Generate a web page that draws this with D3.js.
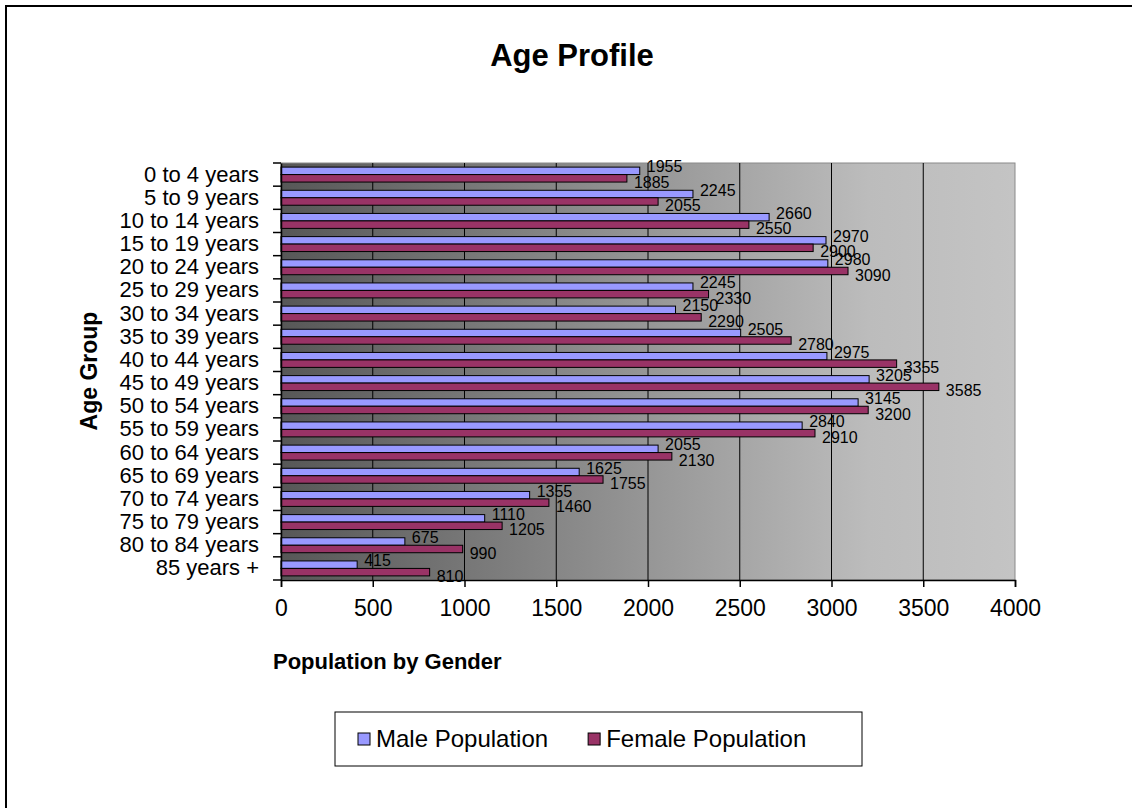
<!DOCTYPE html>
<html>
<head>
<meta charset="utf-8">
<script src="https://cdn.jsdelivr.net/npm/d3@7"></script>
<style>
  html, body { margin: 0; padding: 0; background: #fff; }
  svg { display: block; font-family: "Liberation Sans", Arial, sans-serif; }
</style>
</head>
<body>
<svg id="chart" width="1132" height="808"></svg>
<script>
const categories = ["0 to 4 years","5 to 9 years","10 to 14 years","15 to 19 years","20 to 24 years",
  "25 to 29 years","30 to 34 years","35 to 39 years","40 to 44 years","45 to 49 years",
  "50 to 54 years","55 to 59 years","60 to 64 years","65 to 69 years","70 to 74 years",
  "75 to 79 years","80 to 84 years","85 years +"];
const maleValues   = [1955,2245,2660,2970,2980,2245,2150,2505,2975,3205,3145,2840,2055,1625,1355,1110,675,415];
const femaleValues = [1885,2055,2550,2900,3090,2330,2290,2780,3355,3585,3200,2910,2130,1755,1460,1205,990,810];
const seriesNames  = ["Male Population","Female Population"];
const seriesColors = ["#9999FF","#993366"];
const xTicks = [0,500,1000,1500,2000,2500,3000,3500,4000];
const titleText = "Age Profile";
const xTitle = "Population by Gender";
const yTitle = "Age Group";

const svg = d3.select("#chart");
const plot = {left: 281, right: 1015, top: 163, bottom: 580};

// outer chart border
svg.append("rect").attr("x", 6).attr("y", 6).attr("width", 1200).attr("height", 900)
  .attr("fill", "#fff").attr("stroke", "#000").attr("stroke-width", 2);

// gradient
const defs = svg.append("defs");
const grad = defs.append("linearGradient").attr("id", "bg").attr("x1", "0%").attr("x2", "100%").attr("y1", "0%").attr("y2", "0%");
grad.append("stop").attr("offset", "0%").attr("stop-color", "#575757");
grad.append("stop").attr("offset", "80%").attr("stop-color", "#bcbcbc");
grad.append("stop").attr("offset", "100%").attr("stop-color", "#c4c4c4");

const x = d3.scaleLinear().domain([0, 4000]).range([plot.left, plot.right]);
const y0 = d3.scaleBand().domain(categories).range([plot.top, plot.bottom]).paddingInner(0).paddingOuter(0);
const y1 = d3.scaleBand().domain(seriesNames).range([0, y0.bandwidth()]).paddingInner(0).paddingOuter(0.55);

svg.append("rect").attr("x", plot.left).attr("y", plot.top)
  .attr("width", plot.right - plot.left).attr("height", plot.bottom - plot.top)
  .attr("fill", "url(#bg)").attr("stroke", "#8a8a8a").attr("stroke-width", 1);

// gridlines
svg.append("g").selectAll("line").data(xTicks.filter(d => d > 0 && d < 4000)).join("line")
  .attr("x1", d => x(d)).attr("x2", d => x(d))
  .attr("y1", plot.top).attr("y2", plot.bottom)
  .attr("stroke", "#000").attr("stroke-width", 1);

// bars
const data = categories.map((c, i) => ({cat: c, vals: [maleValues[i], femaleValues[i]]}));
const groups = svg.append("g").selectAll("g").data(data).join("g")
  .attr("transform", d => `translate(0,${y0(d.cat)})`);
groups.selectAll("rect").data(d => d.vals.map((v, j) => ({name: seriesNames[j], v, j}))).join("rect")
  .attr("x", x(0))
  .attr("y", d => y1(d.name))
  .attr("width", d => x(d.v) - x(0))
  .attr("height", y1.bandwidth())
  .attr("fill", d => seriesColors[d.j])
  .attr("stroke", "#000").attr("stroke-width", 1);

// value labels
groups.selectAll("text").data(d => d.vals.map((v, j) => ({name: seriesNames[j], v, j}))).join("text")
  .attr("x", d => x(d.v) + 7)
  .attr("y", d => y1(d.name) + y1.bandwidth() / 2 + (d.j === 0 ? -4 : 4))
  .attr("dy", "0.35em")
  .attr("font-size", 16).attr("fill", "#000")
  .text(d => d.v);

// x axis
const xAxis = d3.axisBottom(x).tickValues(xTicks).tickSize(7).tickPadding(13).tickFormat(d3.format("d"));
const gx = svg.append("g").attr("transform", `translate(0,${plot.bottom})`).call(xAxis);
gx.select(".domain").attr("stroke", "#000").attr("stroke-width", 1.5);
gx.selectAll(".tick line").attr("stroke", "#000").attr("stroke-width", 1.5);
gx.selectAll("text").attr("font-size", 23).attr("font-family", "Liberation Sans, Arial, sans-serif").attr("fill", "#000");

// y axis
const yAxis = d3.axisLeft(y0).tickSize(0).tickPadding(22);
const gy = svg.append("g").attr("transform", `translate(${plot.left},0)`).call(yAxis);
gy.select(".domain").attr("stroke", "#000").attr("stroke-width", 1.5);
gy.selectAll("text").attr("font-size", 22).attr("font-family", "Liberation Sans, Arial, sans-serif").attr("fill", "#000");
// category boundary ticks
const bounds = categories.map(c => y0(c)).concat([plot.bottom]);
svg.append("g").selectAll("line").data(bounds).join("line")
  .attr("x1", plot.left - 8).attr("x2", plot.left)
  .attr("y1", d => d).attr("y2", d => d)
  .attr("stroke", "#000").attr("stroke-width", 1.5);

// titles
svg.append("text").attr("x", 572).attr("y", 66).attr("text-anchor", "middle")
  .attr("font-size", 31).attr("font-weight", "bold").text(titleText);
svg.append("text").attr("x", 273).attr("y", 669)
  .attr("font-size", 22).attr("font-weight", "bold").text(xTitle);
svg.append("text").attr("transform", "translate(97,371) rotate(-90)").attr("text-anchor", "middle")
  .attr("font-size", 23).attr("font-weight", "bold").text(yTitle);

// legend
const lg = {x: 335, y: 712, w: 527, h: 54};
svg.append("rect").attr("x", lg.x).attr("y", lg.y).attr("width", lg.w).attr("height", lg.h)
  .attr("fill", "#fff").attr("stroke", "#000").attr("stroke-width", 1);
const items = svg.append("g");
let cx = lg.x + 23;
seriesNames.forEach((n, i) => {
  items.append("rect").attr("x", cx).attr("y", lg.y + lg.h / 2 - 6).attr("width", 12).attr("height", 12)
    .attr("fill", seriesColors[i]).attr("stroke", "#000").attr("stroke-width", 1);
  const t = items.append("text").attr("x", cx + 18).attr("y", lg.y + lg.h / 2).attr("dy", "0.35em")
    .attr("font-size", 24).text(n);
  cx = cx + 18 + t.node().getComputedTextLength() + 40;
});
</script>
</body>
</html>
